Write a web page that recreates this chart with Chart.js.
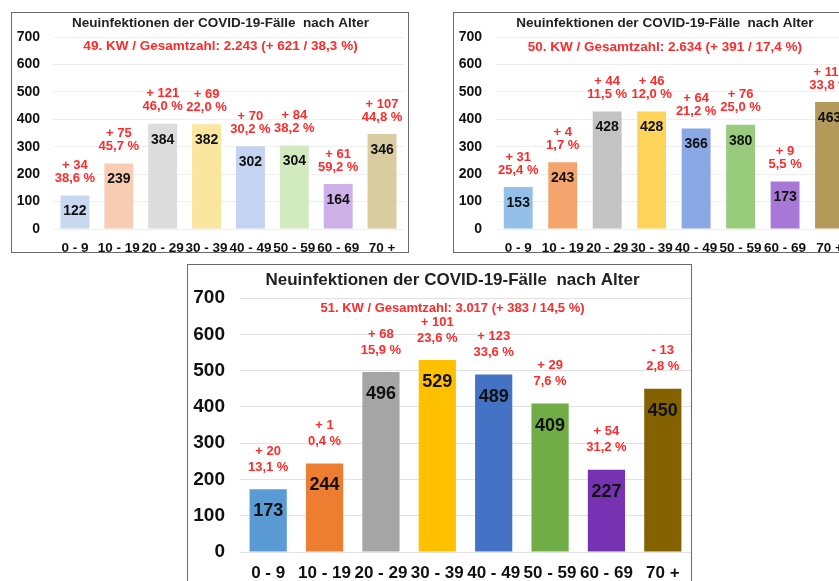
<!DOCTYPE html>
<html>
<head>
<meta charset="utf-8">
<script src="https://cdn.jsdelivr.net/npm/chart.js@4.4.1/dist/chart.umd.min.js"></script>
<style>
  html, body { margin: 0; padding: 0; background: #fff; overflow: hidden; width: 839px; height: 581px; }
  .box { position: absolute; border: 1px solid #6a6a6a; background: #fff; }
  canvas { display: block; }
</style>
</head>
<body>
<div class="box" id="b1" style="left:11px;top:12px;width:396px;height:239px"><canvas id="c1" width="396" height="239"></canvas></div>
<div class="box" id="b2" style="left:453px;top:12px;width:400px;height:239px"><canvas id="c2" width="400" height="239"></canvas></div>
<div class="box" id="b3" style="left:187px;top:264px;width:503px;height:330px"><canvas id="c3" width="503" height="330"></canvas></div>
<script>
const ageGroups = ['0 - 9', '10 - 19', '20 - 29', '30 - 39', '40 - 49', '50 - 59', '60 - 69', '70 +'];
const yTicks = [0, 100, 200, 300, 400, 500, 600, 700];

const cases49 = [122, 239, 384, 382, 302, 304, 164, 346];
const change49 = ['+ 34', '+ 75', '+ 121', '+ 69', '+ 70', '+ 84', '+ 61', '+ 107'];
const pct49 = ['38,6 %', '45,7 %', '46,0 %', '22,0 %', '30,2 %', '38,2 %', '59,2 %', '44,8 %'];

const cases50 = [153, 243, 428, 428, 366, 380, 173, 463];
const change50 = ['+ 31', '+ 4', '+ 44', '+ 46', '+ 64', '+ 76', '+ 9', '+ 117'];
const pct50 = ['25,4 %', '1,7 %', '11,5 %', '12,0 %', '21,2 %', '25,0 %', '5,5 %', '33,8 %'];

const cases51 = [173, 244, 496, 529, 489, 409, 227, 450];
const change51 = ['+ 20', '+ 1', '+ 68', '+ 101', '+ 123', '+ 29', '+ 54', '- 13'];
const pct51 = ['13,1 %', '0,4 %', '15,9 %', '23,6 %', '33,6 %', '7,6 %', '31,2 %', '2,8 %'];

const chartTitle = 'Neuinfektionen der COVID-19-Fälle  nach Alter';
const subtitle49 = '49. KW / Gesamtzahl: 2.243 (+ 621 / 38,3 %)';
const subtitle50 = '50. KW / Gesamtzahl: 2.634 (+ 391 / 17,4 %)';
const subtitle51 = '51. KW / Gesamtzahl: 3.017 (+ 383 / 14,5 %)';

const colors49 = ['#c8d8ee', '#f8cdb4', '#dcdcdc', '#fbe6a0', '#c5d3f2', '#d2eac0', '#cdb0e8', '#d8cca0'];
const colors50 = ['#92c0e8', '#f4a56e', '#c3c3c3', '#fdd35a', '#8aa8e6', '#98cb7c', '#a878d6', '#b49a5a'];
const colors51 = ['#5b9bd5', '#ed7d31', '#a5a5a5', '#ffc000', '#4472c4', '#70ad47', '#7732b4', '#856200'];

const FONT = '"Liberation Sans", Arial, sans-serif';

// draws title, subtitle, values in bars and red change labels
const labelPlugin = {
  id: 'labels',
  afterDatasetsDraw(chart) {
    const o = chart.options.plugins.labels;
    const ctx = chart.ctx;
    const area = chart.chartArea;
    const cx = (area.left + area.right) / 2 + o.titleShift;
    ctx.save();
    ctx.textAlign = 'center';
    ctx.textBaseline = 'middle';
    ctx.fillStyle = '#222';
    ctx.font = 'bold ' + o.titleSize + 'px ' + FONT;
    ctx.fillText(o.title, cx, o.titleY);
    ctx.fillStyle = '#ff2a2a';
    ctx.font = 'bold ' + o.subSize + 'px ' + FONT;
    ctx.fillText(o.subtitle, cx, o.subY);

    const meta = chart.getDatasetMeta(0);
    meta.data.forEach((bar, i) => {
      ctx.fillStyle = '#111';
      ctx.font = 'bold ' + o.valSize + 'px ' + FONT;
      ctx.fillText(chart.data.datasets[0].data[i], bar.x, bar.y + o.valOff);
      ctx.fillStyle = '#ff2a2a';
      ctx.font = 'bold ' + o.redSize + 'px ' + FONT;
      ctx.fillText(o.change[i], bar.x, bar.y - o.redOff2);
      ctx.fillText(o.pct[i], bar.x, bar.y - o.redOff1);
    });
    ctx.restore();
  }
};

function makeChart(id, values, colors, cfg) {
  return new Chart(document.getElementById(id).getContext('2d'), {
    type: 'bar',
    data: {
      labels: ageGroups,
      datasets: [{
        data: values,
        backgroundColor: colors,
        barPercentage: cfg.barPct,
        categoryPercentage: 1
      }]
    },
    options: {
      responsive: false,
      animation: false,
      layout: { padding: { top: cfg.top, right: cfg.right, left: 0, bottom: 0 } },
      scales: {
        x: {
          grid: { display: false, drawTicks: false },
          border: { display: false },
          ticks: {
            color: '#111',
            font: { family: FONT, size: cfg.xSize, weight: 'bold' },
            padding: cfg.xPad,
            maxRotation: 0,
            minRotation: 0,
            autoSkip: false
          },
          afterFit: (scale) => { scale.height = cfg.xHeight; }
        },
        y: {
          min: yTicks[0],
          max: yTicks[yTicks.length - 1],
          afterBuildTicks: (scale) => { scale.ticks = yTicks.map(v => ({ value: v })); },
          grid: { color: cfg.gridColor, drawTicks: false },
          border: { display: false },
          ticks: {
            color: '#111',
            font: { family: FONT, size: cfg.ySize, weight: 'bold' },
            padding: cfg.yPad
          },
          afterFit: (scale) => { scale.width = cfg.yWidth; }
        }
      },
      plugins: {
        legend: { display: false },
        tooltip: { enabled: false },
        labels: cfg.labels
      }
    },
    plugins: [labelPlugin]
  });
}

makeChart('c1', cases49, colors49, {
  barPct: 0.66, top: 24, right: 4, xSize: 13.5, xPad: 11, xHeight: 23,
  ySize: 14, yPad: 13, yWidth: 41, gridColor: '#efefef',
  labels: {
    title: chartTitle, subtitle: subtitle49, titleShift: -8,
    titleSize: 13.5, titleY: 10, subSize: 13.5, subY: 33,
    valSize: 14, valOff: 16, redSize: 13, redOff1: 17, redOff2: 30,
    change: change49, pct: pct49
  }
});

makeChart('c2', cases50, colors50, {
  barPct: 0.65, top: 24, right: 2, xSize: 13.5, xPad: 11, xHeight: 23,
  ySize: 14, yPad: 14, yWidth: 42, gridColor: '#efefef',
  labels: {
    title: chartTitle, subtitle: subtitle50, titleShift: -9,
    titleSize: 13.5, titleY: 10, subSize: 13.5, subY: 34,
    valSize: 14, valOff: 16, redSize: 13, redOff1: 17, redOff2: 30,
    change: change50, pct: pct50
  }
});

makeChart('c3', cases51, colors51, {
  barPct: 0.66, top: 33, right: 0, xSize: 17, xPad: 11, xHeight: 43,
  ySize: 19, yPad: 15, yWidth: 52, gridColor: '#e2e2e2',
  labels: {
    title: chartTitle, subtitle: subtitle51, titleShift: -13,
    titleSize: 17, titleY: 15, subSize: 13, subY: 43,
    valSize: 18, valOff: 22, redSize: 13, redOff1: 22, redOff2: 38,
    change: change51, pct: pct51
  }
});
</script>
</body>
</html>
